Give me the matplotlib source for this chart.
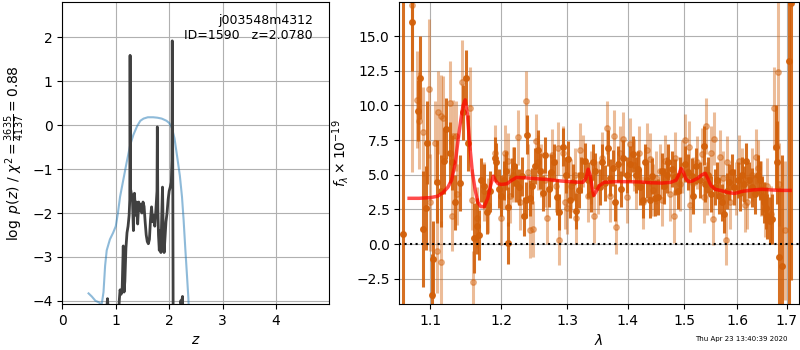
import numpy as np
import matplotlib
matplotlib.use('Agg')
import matplotlib.pyplot as plt
from matplotlib.ticker import NullLocator, FixedLocator, FixedFormatter

# Redshift fit: log p(z) (black) and prior / chi2 curve (blue)
pz_z = [0.80, 0.83, 0.845, 0.86, 0.88, 1.04, 1.065, 1.08, 1.10, 1.12,
        1.14, 1.155, 1.17, 1.19, 1.21, 1.23, 1.25, 1.262, 1.268, 1.276,
        1.29, 1.31, 1.33, 1.35, 1.37, 1.39, 1.41, 1.43, 1.45, 1.47,
        1.49, 1.51, 1.53, 1.55, 1.57, 1.59, 1.61, 1.63, 1.65, 1.67,
        1.69, 1.71, 1.73, 1.75, 1.772, 1.778, 1.788, 1.80, 1.815, 1.83,
        1.845, 1.86, 1.875, 1.89, 1.905, 1.92, 1.94, 1.96, 1.98, 2.00,
        2.02, 2.04, 2.052, 2.058, 2.066, 2.075, 2.19, 2.215, 2.23, 2.25,
        2.26]
pz_log = [-4.6, -4.2, -3.95, -4.25, -4.6, -4.6, -4.0, -3.75, -3.85, -3.7,
          -2.75, -3.8, -3.55, -2.8, -2.45, -2.3, -2.05, -1.7, 1.59, -1.45,
          -1.55, -1.6, -2.4, -1.55, -2.05, -1.75, -2.25, -1.75, -1.95, -1.8,
          -2.0, -1.75, -1.85, -2.2, -2.5, -2.65, -2.7, -2.6, -2.15, -1.86,
          -2.2, -2.05, -2.3, -1.95, -1.5, -0.04, -1.9, -2.5, -2.85, -2.4,
          -2.9, -2.1, -1.41, -2.5, -2.9, -2.6, -2.2, -2.0, -1.7, -1.5,
          -1.41, -1.3, -0.8, 1.92, -0.5, -4.6, -4.6, -4.0, -4.05, -3.9,
          -4.6]

prior_z = [0.49, 0.55, 0.62, 0.66, 0.70, 0.72, 0.74, 0.77, 0.80, 0.83,
           0.89, 0.95, 1.00, 1.04, 1.08, 1.14, 1.20, 1.27, 1.33, 1.40,
           1.46, 1.52, 1.60, 1.70, 1.78, 1.86, 1.95, 2.00, 2.05, 2.10,
           2.15, 2.20, 2.24, 2.27, 2.30, 2.33, 2.36, 2.38]
prior_log = [-3.83, -3.9, -4.0, -4.02, -4.05, -4.1, -4.05, -3.8, -3.2, -2.85,
             -2.6, -2.45, -2.3, -2.0, -1.63, -1.25, -0.87, -0.45, -0.22, -0.02,
             0.1, 0.15, 0.18, 0.18, 0.17, 0.15, 0.1, 0.05, -0.06, -0.3,
             -0.72, -1.15, -1.63, -2.15, -2.77, -3.35, -3.95, -4.6]

# Spectrum, first beam (dark)
wave_a = [1.0645, 1.0756, 1.0833, 1.0870, 1.0899, 1.0943, 1.0960, 1.1023, 1.1040, 1.1098,
          1.1145, 1.1180, 1.1213, 1.1268, 1.1300, 1.1340, 1.1410, 1.1450, 1.1490, 1.1520,
          1.1600, 1.1640, 1.1680, 1.1710, 1.1750, 1.1790, 1.1830, 1.1900, 1.1920, 1.1960,
          1.2000, 1.2030, 1.2060, 1.2090, 1.2100, 1.2150, 1.2190, 1.2210, 1.2260, 1.2300,
          1.2340, 1.2370, 1.2380, 1.2420, 1.2460, 1.2500, 1.2540, 1.2580, 1.2620, 1.2660,
          1.2720, 1.2750, 1.2790, 1.2840, 1.2880, 1.2930, 1.2990, 1.3020, 1.3050, 1.3100,
          1.3150, 1.3190, 1.3230, 1.3290, 1.3340, 1.3390, 1.3420, 1.3450, 1.3530, 1.3560,
          1.3610, 1.3670, 1.3700, 1.3750, 1.3790, 1.3840, 1.3880, 1.3920, 1.3980, 1.4040,
          1.4090, 1.4140, 1.4170, 1.4210, 1.4260, 1.4300, 1.4330, 1.4390, 1.4420, 1.4470,
          1.4530, 1.4590, 1.4630, 1.4680, 1.4710, 1.4770, 1.4830, 1.4880, 1.4920, 1.5010,
          1.5060, 1.5140, 1.5170, 1.5220, 1.5300, 1.5360, 1.5390, 1.5450, 1.5500, 1.5580,
          1.5610, 1.5650, 1.5710, 1.5740, 1.5800, 1.5840, 1.5900, 1.5940, 1.6010, 1.6050,
          1.6100, 1.6140, 1.6170, 1.6240, 1.6300, 1.6350, 1.6410, 1.6450, 1.6500, 1.6530,
          1.6570, 1.6600, 1.6660, 1.6700, 1.6770, 1.6790, 1.6840, 1.6900, 1.7050, 1.7090]
flux_a = [0.7, 16.0, 9.6, 12.0, 1.1, 2.6, 7.3, -3.7, -1.1, 4.5,
          3.8, 6.0, 8.3, 6.6, 5.9, 3.0, 4.4, 9.5, 12.0, 7.3,
          0.45, 1.3, 0.65, 4.6, 4.2, 2.3, 3.8, 6.2, 5.9, 4.0,
          3.5, 4.6, 5.3, 0.1, 2.7, 4.8, 5.6, 4.4, 4.1, 4.9,
          2.0, 3.2, 7.9, 3.3, 4.2, 5.6, 6.8, 5.3, 3.7, 6.4,
          4.0, 5.2, 5.9, 3.4, 2.3, 7.0, 5.0, 6.1, 3.2, 4.5,
          2.4, 3.9, 5.0, 6.0, 4.6, 3.6, 5.9, 5.3, 4.1, 5.9,
          4.4, 6.9, 4.8, 5.5, 3.0, 5.8, 4.0, 6.2, 5.0, 5.8,
          6.5, 5.0, 5.4, 4.1, 3.2, 5.9, 4.6, 3.2, 4.9, 3.3,
          3.4, 5.3, 4.2, 5.0, 5.9, 5.4, 4.85, 3.8, 5.0, 5.8,
          5.2, 4.9, 3.5, 5.6, 4.6, 7.1, 4.3, 5.0, 3.6, 4.1,
          4.6, 3.5, 3.0, 2.2, 3.8, 4.5, 5.2, 4.1, 4.6, 3.7,
          5.0, 4.3, 6.0, 4.6, 4.1, 3.6, 5.0, 4.6, 3.5, 3.0,
          2.6, 2.0, 1.7, 1.8, 7.0, 5.9, -0.9, -1.6, 13.2, 17.4]
err_a = [30.0, 3.5, 2.2, 3.0, 4.2, 3.0, 3.0, 3.0, 2.8, 3.0,
         2.6, 2.4, 2.2, 2.2, 2.0, 2.0, 2.0, 2.0, 2.0, 2.0,
         2.5, 2.0, 1.8, 1.6, 1.6, 1.6, 1.5, 1.5, 1.4, 1.4,
         1.5, 1.4, 1.4, 1.5, 1.4, 1.4, 1.4, 1.4, 1.3, 1.4,
         1.4, 1.3, 1.4, 1.3, 1.3, 1.3, 1.4, 1.3, 1.3, 1.3,
         1.3, 1.3, 1.3, 1.3, 1.3, 1.4, 1.3, 1.3, 1.3, 1.3,
         1.3, 1.3, 1.3, 1.3, 1.3, 1.3, 1.3, 1.3, 1.3, 1.3,
         1.3, 1.3, 1.3, 1.3, 1.3, 1.3, 1.3, 1.3, 1.3, 1.3,
         1.3, 1.3, 1.3, 1.3, 1.3, 1.3, 1.3, 1.3, 1.3, 1.3,
         1.3, 1.3, 1.3, 1.3, 1.3, 1.3, 1.3, 1.3, 1.3, 1.3,
         1.3, 1.3, 1.3, 1.3, 1.3, 1.4, 1.3, 1.3, 1.3, 1.3,
         1.3, 1.3, 1.3, 1.4, 1.3, 1.3, 1.3, 1.3, 1.3, 1.3,
         1.3, 1.3, 1.3, 1.3, 1.4, 1.4, 1.4, 1.4, 1.4, 1.5,
         1.5, 1.6, 1.7, 1.8, 3.0, 3.0, 5.0, 8.0, 20.0, 20.0]

# Spectrum, second beam (light)
wave_b = [1.0757, 1.0830, 1.0850, 1.0906, 1.0977, 1.1000, 1.1070, 1.1098, 1.1110, 1.1147,
          1.1150, 1.1170, 1.1270, 1.1300, 1.1310, 1.1350, 1.1370, 1.1440, 1.1550, 1.1580,
          1.1590, 1.1640, 1.1740, 1.1800, 1.1900, 1.1990, 1.2030, 1.2050, 1.2100, 1.2130,
          1.2170, 1.2240, 1.2280, 1.2360, 1.2390, 1.2430, 1.2470, 1.2510, 1.2550, 1.2600,
          1.2650, 1.2690, 1.2760, 1.2820, 1.2860, 1.2880, 1.2940, 1.2970, 1.3000, 1.3070,
          1.3120, 1.3150, 1.3200, 1.3250, 1.3330, 1.3380, 1.3440, 1.3500, 1.3560, 1.3650,
          1.3700, 1.3760, 1.3800, 1.3870, 1.3920, 1.3980, 1.4040, 1.4100, 1.4150, 1.4190,
          1.4260, 1.4330, 1.4380, 1.4430, 1.4500, 1.4570, 1.4600, 1.4660, 1.4740, 1.4810,
          1.4840, 1.4920, 1.4960, 1.5010, 1.5090, 1.5100, 1.5160, 1.5230, 1.5320, 1.5360,
          1.5410, 1.5420, 1.5490, 1.5540, 1.5560, 1.5670, 1.5720, 1.5780, 1.5810, 1.5870,
          1.5970, 1.6040, 1.6100, 1.6150, 1.6200, 1.6290, 1.6370, 1.6420, 1.6470, 1.6550,
          1.6600, 1.6680, 1.6740, 1.6820, 1.6840, 1.6960]
flux_b = [17.2, 10.4, 8.9, 8.1, 11.2, 3.0, 7.3, -0.5, 9.5, -1.3,
          9.2, 9.1, 10.2, 2.0, 7.8, 7.8, 3.6, 11.7, 9.8, 3.2,
          -2.7, 1.9, 3.8, 2.8, 6.6, 1.9, 4.5, 6.6, 6.0, 3.5,
          5.0, 7.7, 3.0, 10.3, 5.2, 1.0, 1.1, 7.4, 5.9, 5.3,
          4.6, 1.9, 6.4, 4.2, 6.9, 0.3, 6.6, 3.0, 2.6, 4.2,
          5.0, 1.9, 6.8, 6.0, 3.5, 4.8, 2.0, 4.1, 6.2, 8.4,
          3.5, 7.8, 1.2, 6.6, 7.6, 3.4, 7.2, 5.7, 4.4, 6.6,
          3.0, 6.8, 6.1, 3.9, 4.8, 5.3, 3.2, 6.0, 3.6, 2.0,
          6.2, 4.3, 5.6, 7.5, 7.0, 2.8, 4.4, 5.9, 6.5, 3.4,
          8.5, 4.0, 6.6, 1.8, 7.6, 6.3, 4.8, 0.3, 5.9, 3.0,
          4.0, 6.0, 5.0, 2.8, 3.0, 5.0, 6.3, 5.5, 4.0, 2.5,
          4.2, 2.2, 9.8, 12.4, 4.3, 1.0]
err_b = [12.0, 3.5, 3.5, 3.2, 5.0, 3.5, 3.0, 3.0, 3.0, 3.0,
         3.0, 3.0, 3.0, 2.5, 2.6, 2.5, 2.2, 3.0, 3.0, 2.2,
         2.2, 2.2, 2.1, 2.0, 2.0, 2.0, 2.0, 2.0, 2.0, 2.0,
         2.0, 2.0, 2.0, 2.2, 2.0, 2.0, 2.0, 2.0, 2.0, 1.9,
         1.9, 1.9, 1.9, 1.9, 1.9, 1.8, 1.9, 1.9, 1.9, 1.9,
         1.9, 1.9, 1.9, 1.9, 1.9, 1.9, 1.9, 1.9, 1.9, 1.9,
         1.9, 1.9, 1.9, 1.9, 1.9, 1.9, 1.9, 1.9, 1.9, 1.9,
         1.9, 1.9, 1.9, 1.9, 1.9, 1.9, 1.9, 1.9, 1.9, 1.9,
         1.9, 1.9, 1.9, 1.9, 1.9, 1.9, 1.9, 1.9, 1.9, 1.9,
         2.0, 1.9, 1.9, 1.9, 1.9, 1.9, 1.9, 1.8, 1.9, 1.9,
         1.9, 1.9, 1.9, 1.9, 1.9, 1.9, 2.0, 2.0, 2.0, 2.0,
         2.0, 2.0, 3.0, 5.5, 3.0, 5.0]

# Best-fit model
wave_model = [1.072, 1.085, 1.100, 1.110, 1.117, 1.124, 1.129, 1.134, 1.138, 1.142,
              1.145, 1.148, 1.151, 1.155, 1.158, 1.162, 1.166, 1.170, 1.175, 1.180,
              1.184, 1.188, 1.191, 1.195, 1.200, 1.208, 1.215, 1.222, 1.235, 1.250,
              1.270, 1.290, 1.310, 1.325, 1.330, 1.334, 1.337, 1.340, 1.343, 1.347,
              1.352, 1.360, 1.380, 1.400, 1.420, 1.440, 1.460, 1.475, 1.485, 1.490,
              1.494, 1.498, 1.503, 1.508, 1.515, 1.525, 1.533, 1.539, 1.544, 1.550,
              1.558, 1.570, 1.585, 1.595, 1.610, 1.630, 1.650, 1.670, 1.690, 1.707]
flux_model = [3.3, 3.3, 3.35, 3.45, 3.7, 4.1, 4.6, 5.8, 7.5, 9.0,
              10.0, 10.4, 9.4, 6.8, 5.2, 3.9, 3.0, 2.7, 2.7, 3.3,
              4.2, 4.9, 4.6, 4.35, 4.3, 4.35, 4.6, 4.8, 4.78, 4.72,
              4.65, 4.55, 4.48, 4.45, 4.7, 5.4, 5.0, 4.2, 3.5, 3.8,
              4.2, 4.45, 4.5, 4.5, 4.48, 4.42, 4.4, 4.45, 4.6, 5.0,
              5.45, 5.2, 4.7, 4.5, 4.55, 4.75, 5.0, 5.1, 4.7, 4.2,
              3.95, 3.85, 3.7, 3.65, 3.8, 3.9, 3.95, 3.9, 3.87, 3.87]

chi2_num, chi2_den, chi2_red = 3635, 4137, 0.88
root_name = 'j003548m4312'
obj_id, z_best = 1590, 2.0780
stamp = 'Thu Apr 23 13:40:39 2020'
lam_ticks = [1.1, 1.2, 1.3, 1.4, 1.5, 1.6, 1.7]

fig = plt.figure(figsize=(8, 3.5), dpi=100)

# left panel: p(z)
ax1 = fig.add_axes([0.078, 0.131, 0.333, 0.864])
ax1.plot(prior_z, prior_log, color='tab:blue', alpha=0.5, lw=1.5)
ax1.plot(pz_z, pz_log, color='0.25', lw=2)
ax1.set_xlim(0, 4.99)
ax1.set_ylim(-4.075, 2.81)
ax1.set_xticks([0, 1, 2, 3, 4])
ax1.set_yticks([-4, -3, -2, -1, 0, 1, 2])
ax1.grid(True)
ax1.set_xlabel('$z$')
ax1.set_ylabel(r'$\log\ p(z)$ / $\chi^2=\frac{%d}{%d}=%.2f$' % (chi2_num, chi2_den, chi2_red))
ax1.text(0.94, 0.958, '%s\nID=%d   z=%.4f' % (root_name, obj_id, z_best),
         transform=ax1.transAxes, ha='right', va='top', fontsize=9)

# right panel: spectrum
dark = '#d2600a'
ax2 = fig.add_axes([0.4991, 0.131, 0.4996, 0.864])
ax2.errorbar(wave_b, flux_b, yerr=err_b, marker='o', ms=4, linestyle='none',
             color=dark, alpha=0.42, elinewidth=2.2, capsize=0)
ax2.errorbar(wave_a, flux_a, yerr=err_a, marker='o', ms=4, linestyle='none',
             color=dark, alpha=0.9, elinewidth=2.2, capsize=0)
ax2.plot(wave_model, flux_model, color='r', alpha=0.7, lw=2.5, zorder=5)
ax2.axhline(0, color='k', ls=':', lw=1.5, zorder=6)
ax2.set_xscale('log')
ax2.set_xlim(1.0592, 1.7255)
ax2.set_ylim(-4.33, 17.47)
ax2.xaxis.set_major_locator(FixedLocator(lam_ticks))
ax2.xaxis.set_major_formatter(FixedFormatter(['%.1f' % t for t in lam_ticks]))
ax2.xaxis.set_minor_locator(NullLocator())
ax2.set_yticks([-2.5, 0, 2.5, 5, 7.5, 10, 12.5, 15])
ax2.grid(True)
ax2.set_xlabel(r'$\lambda$')
ax2.set_ylabel(r'$f_\lambda\times10^{-19}$')

fig.text(0.984, 0.031, stamp, ha='right', va='center', fontsize=5)

fig.savefig('out.png', dpi=100)
